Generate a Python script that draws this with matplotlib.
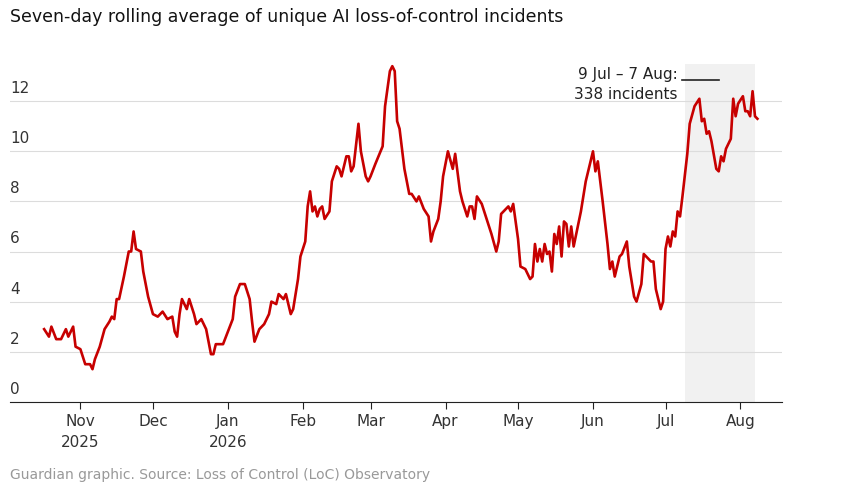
import matplotlib
matplotlib.use("Agg")
import matplotlib.pyplot as plt
import pandas as pd

dates = ["2025-10-17","2025-10-19","2025-10-20","2025-10-22","2025-10-24","2025-10-26","2025-10-27","2025-10-29","2025-10-30",
"2025-11-01","2025-11-03","2025-11-05","2025-11-06","2025-11-07","2025-11-09","2025-11-11","2025-11-13","2025-11-14","2025-11-15",
"2025-11-16","2025-11-17","2025-11-19","2025-11-21","2025-11-22","2025-11-23","2025-11-24","2025-11-26","2025-11-27","2025-11-29",
"2025-12-01","2025-12-03","2025-12-05","2025-12-07","2025-12-09","2025-12-10","2025-12-11","2025-12-12","2025-12-13","2025-12-15",
"2025-12-16","2025-12-18","2025-12-19","2025-12-21","2025-12-23","2025-12-25","2025-12-26","2025-12-27","2025-12-30",
"2026-01-01","2026-01-03","2026-01-04","2026-01-06","2026-01-08","2026-01-10","2026-01-11","2026-01-12","2026-01-14","2026-01-16",
"2026-01-18","2026-01-19","2026-01-21","2026-01-22","2026-01-24","2026-01-25","2026-01-27","2026-01-28","2026-01-30","2026-01-31",
"2026-02-02","2026-02-03","2026-02-04","2026-02-05","2026-02-06","2026-02-07","2026-02-08","2026-02-09","2026-02-10","2026-02-12",
"2026-02-13","2026-02-15","2026-02-16","2026-02-17","2026-02-19","2026-02-20","2026-02-21","2026-02-22","2026-02-24","2026-02-25",
"2026-02-27","2026-02-28",
"2026-03-01","2026-03-03","2026-03-06","2026-03-07","2026-03-09","2026-03-10","2026-03-11","2026-03-12","2026-03-13","2026-03-15",
"2026-03-17","2026-03-18","2026-03-20","2026-03-21","2026-03-23","2026-03-25","2026-03-26","2026-03-27","2026-03-29","2026-03-30",
"2026-03-31","2026-04-02","2026-04-04","2026-04-05","2026-04-07","2026-04-08","2026-04-10","2026-04-11","2026-04-12","2026-04-13",
"2026-04-14","2026-04-16","2026-04-18","2026-04-20","2026-04-22","2026-04-23","2026-04-24","2026-04-25","2026-04-27","2026-04-28",
"2026-04-29","2026-05-01","2026-05-02","2026-05-04","2026-05-06","2026-05-07","2026-05-08","2026-05-09","2026-05-10","2026-05-11",
"2026-05-12","2026-05-13","2026-05-14","2026-05-15","2026-05-16","2026-05-17","2026-05-18","2026-05-19","2026-05-20","2026-05-21",
"2026-05-22","2026-05-23","2026-05-24","2026-05-27","2026-05-29","2026-06-01","2026-06-02","2026-06-03","2026-06-05","2026-06-07",
"2026-06-08","2026-06-09","2026-06-10","2026-06-12","2026-06-13","2026-06-15","2026-06-16","2026-06-18","2026-06-19","2026-06-21",
"2026-06-22","2026-06-24","2026-06-25","2026-06-26","2026-06-27","2026-06-29","2026-06-30","2026-07-01","2026-07-02","2026-07-03",
"2026-07-04","2026-07-05","2026-07-06","2026-07-07","2026-07-08","2026-07-10","2026-07-11","2026-07-13","2026-07-15","2026-07-16",
"2026-07-17","2026-07-18","2026-07-19","2026-07-20","2026-07-22","2026-07-23","2026-07-24","2026-07-25","2026-07-26","2026-07-28",
"2026-07-29","2026-07-30","2026-07-31","2026-08-02","2026-08-03","2026-08-04","2026-08-05","2026-08-06","2026-08-07","2026-08-08"]
values = [2.9,2.6,3.0,2.5,2.5,2.9,2.6,3.0,2.2,
2.1,1.5,1.5,1.3,1.7,2.2,2.9,3.2,3.4,3.3,
4.1,4.1,5.0,6.0,6.0,6.8,6.1,6.0,5.2,4.2,
3.5,3.4,3.6,3.3,3.4,2.8,2.6,3.5,4.1,3.7,
4.1,3.5,3.1,3.3,2.9,1.9,1.9,2.3,2.3,
2.8,3.3,4.2,4.7,4.7,4.1,3.2,2.4,2.9,3.1,
3.5,4.0,3.9,4.3,4.1,4.3,3.5,3.7,4.9,5.8,
6.4,7.8,8.4,7.6,7.8,7.4,7.7,7.8,7.3,7.6,
8.8,9.4,9.3,9.0,9.8,9.8,9.2,9.4,11.1,10.0,
9.0,8.8,
9.0,9.5,10.2,11.8,13.2,13.4,13.2,11.2,10.9,9.3,
8.3,8.3,8.0,8.2,7.7,7.4,6.4,6.8,7.3,8.0,
9.0,10.0,9.3,9.9,8.4,8.0,7.4,7.8,7.8,7.3,
8.2,7.9,7.3,6.7,6.0,6.4,7.5,7.6,7.8,7.6,
7.9,6.5,5.4,5.3,4.9,5.0,6.3,5.6,6.1,5.6,
6.3,5.9,6.0,5.2,6.7,6.3,7.0,5.8,7.2,7.1,
6.2,7.0,6.2,7.6,8.8,10.0,9.2,9.6,8.0,6.3,
5.3,5.6,5.0,5.8,5.9,6.4,5.4,4.2,4.0,4.7,
5.9,5.7,5.6,5.6,4.5,3.7,4.0,6.1,6.6,6.2,
6.8,6.6,7.6,7.4,8.2,9.9,11.1,11.8,12.1,11.2,
11.3,10.7,10.8,10.4,9.3,9.2,9.8,9.6,10.1,10.5,
12.1,11.4,11.9,12.2,11.6,11.6,11.4,12.4,11.4,11.3]
month_ticks = ["2025-11-01","2025-12-01","2026-01-01","2026-02-01","2026-03-01","2026-04-01","2026-05-01","2026-06-01","2026-07-01","2026-08-01"]
month_labels = ["Nov\n2025","Dec","Jan\n2026","Feb","Mar","Apr","May","Jun","Jul","Aug"]
y_ticks = [0,2,4,6,8,10,12]
shade = ["2026-07-09","2026-08-07"]
annot = ["9 Jul – 7 Aug:", "338 incidents"]

x = pd.to_datetime(dates)
ytop = 14.0
fig = plt.figure(figsize=(8.57,4.87), dpi=100)
ax = fig.add_axes([0.012,0.175,0.9,0.72])
ax.axvspan(pd.Timestamp(shade[0]), pd.Timestamp(shade[1]), ymin=0, ymax=13.5/ytop, color="#f1f1f1", zorder=0, lw=0)
ax.plot(x, values, color="#c70000", lw=1.9, zorder=3)
ax.set_xlim(pd.Timestamp("2025-10-03"), pd.Timestamp("2026-08-18"))
ax.set_ylim(0, ytop)
for s in ["top","right","left"]:
    ax.spines[s].set_visible(False)
ax.spines["bottom"].set_color("#222")
ax.set_yticks(y_ticks)
ax.set_yticklabels([])
ax.tick_params(axis="y", length=0)
ax.grid(axis="y", color="#dcdcdc", lw=0.8)
ax.set_axisbelow(True)
for v in y_ticks:
    ax.text(0.0, v+0.2, str(v), transform=ax.get_yaxis_transform(), ha="left", va="bottom", fontsize=11, color="#333")
ax.set_xticks(pd.to_datetime(month_ticks))
ax.set_xticklabels(month_labels, fontsize=11, color="#333", linespacing=1.5)
ax.tick_params(axis="x", length=5, color="#222", pad=4)
ax.text(pd.Timestamp("2026-07-09") - pd.Timedelta(days=3), 13.05, annot[0], ha="right", va="center", fontsize=11, color="#222")
ax.text(pd.Timestamp("2026-07-09") - pd.Timedelta(days=3), 12.25, annot[1], ha="right", va="center", fontsize=11, color="#222")
ax.plot([pd.Timestamp("2026-07-08"), pd.Timestamp("2026-07-23")], [12.85,12.85], color="#222", lw=1.2)
fig.text(0.012, 0.965, "Seven-day rolling average of unique AI loss-of-control incidents", fontsize=12.5, color="#121212", va="center")
fig.text(0.012, 0.025, "Guardian graphic. Source: Loss of Control (LoC) Observatory", fontsize=10, color="#999", va="center")
fig.savefig("out.png", dpi=100)
